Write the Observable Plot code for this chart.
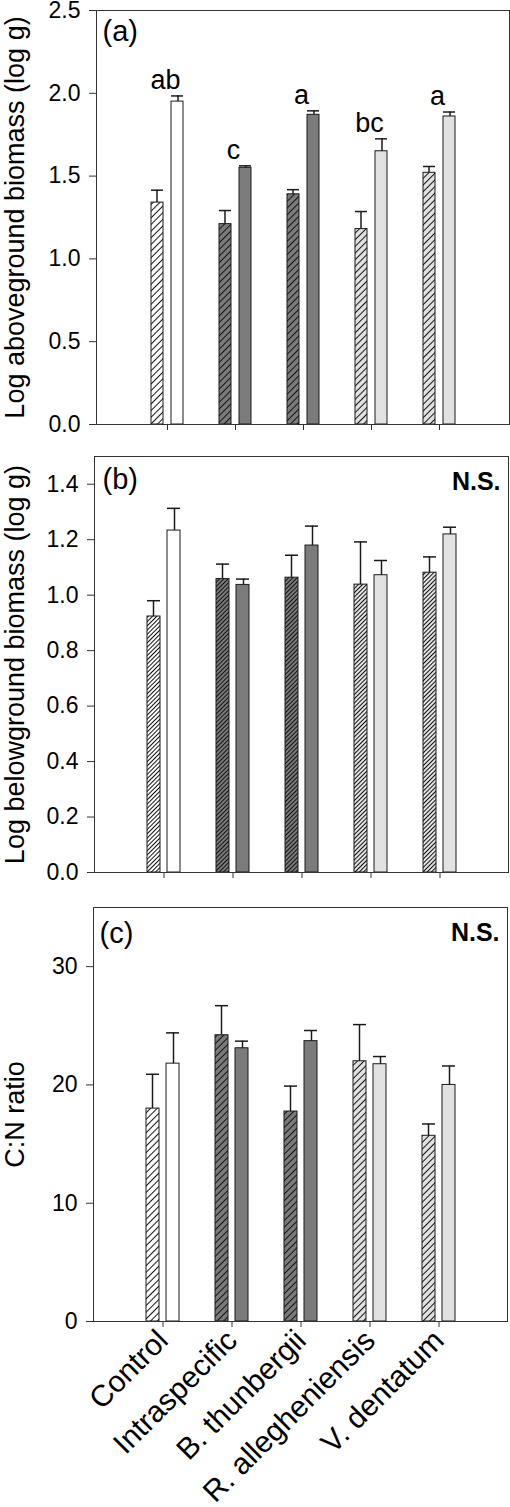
<!DOCTYPE html>
<html><head><meta charset="utf-8">
<script src="https://cdn.jsdelivr.net/npm/d3@7"></script>
<script src="https://cdn.jsdelivr.net/npm/@observablehq/plot@0.6"></script>
<style>
body{margin:0;background:#fff;}
#chart{width:510px;}
#chart svg{display:block;}
</style></head><body>
<svg id="defs" width="0" height="0" style="position:absolute;left:0;top:0"><defs></defs></svg>
<div id="chart"></div>
<script>
// ---- data ----
const categories = ["Control", "Intraspecific", "B. thunbergii", "R. allegheniensis", "V. dentatum"];
const shade = ["white", "dark", "dark", "light", "light"];

// (a) Log aboveground biomass
const aboveHatched   = [1.34, 1.21, 1.39, 1.18, 1.52];
const aboveHatchedSE = [0.075, 0.082, 0.028, 0.106, 0.038];
const aboveSolid     = [1.95, 1.55, 1.87, 1.65, 1.86];
const aboveSolidSE   = [0.034, 0.012, 0.024, 0.075, 0.027];
const aboveLetters   = ["ab", "c", "a", "bc", "a"];

// (b) Log belowground biomass
const belowHatched   = [0.923, 1.058, 1.063, 1.038, 1.081];
const belowHatchedSE = [0.057, 0.054, 0.081, 0.154, 0.057];
const belowSolid     = [1.233, 1.037, 1.179, 1.072, 1.219];
const belowSolidSE   = [0.080, 0.021, 0.070, 0.053, 0.026];

// (c) C:N ratio
const cnHatched   = [18.0, 24.2, 17.75, 22.0, 15.7];
const cnHatchedSE = [2.9, 2.5, 2.15, 3.1, 1.0];
const cnSolid     = [21.8, 23.1, 23.7, 21.75, 20.0];
const cnSolidSE   = [2.6, 0.6, 0.9, 0.65, 1.6];

const ticksA = [0, 0.5, 1.0, 1.5, 2.0, 2.5];
const ticksB = [0, 0.2, 0.4, 0.6, 0.8, 1.0, 1.2, 1.4];
const ticksC = [0, 10, 20, 30];

// ---- styles ----
const fills = {white: "#ffffff", dark: "#7b7b7b", light: "#e2e2e2"};
const font = "'Liberation Sans', Arial, Helvetica, sans-serif";

// hatch patterns
const defs = d3.select("#defs defs");
for (const [dens, w] of [["wide", 4.7], ["fine", 3.0]]) {
  for (const s of Object.keys(fills)) {
    const p = defs.append("pattern")
      .attr("id", `hatch-${dens}-${s}`)
      .attr("patternUnits", "userSpaceOnUse")
      .attr("width", w).attr("height", w)
      .attr("patternTransform", "rotate(45)");
    p.append("rect").attr("width", w).attr("height", w).attr("fill", fills[s]);
    p.append("line").attr("x1", w / 2).attr("x2", w / 2).attr("y1", -1).attr("y2", w + 1)
      .attr("stroke", "#111").attr("stroke-width", 1);
  }
}

function rows(hm, hse, sm, sse, letters) {
  return categories.flatMap((c, i) => [
    {category: c, kind: "hatched", shade: shade[i], mean: hm[i], se: hse[i]},
    {category: c, kind: "solid", shade: shade[i], mean: sm[i], se: sse[i], letter: letters ? letters[i] : null}
  ]);
}

function panel(o) {
  const data = rows(o.hm, o.hse, o.sm, o.sse, o.letters);
  const H = data.filter(d => d.kind === "hatched");
  const S = data.filter(d => d.kind === "solid");
  const ink = "#1a1a1a";
  const marks = [
    Plot.barY(H, {x: "category", y1: 0, y2: "mean", fill: d => `url(#hatch-${o.dens}-${d.shade})`,
      stroke: ink, strokeWidth: 1, insetLeft: 18, insetRight: 38}),
    Plot.barY(S, {x: "category", y1: 0, y2: "mean", fill: d => fills[d.shade],
      stroke: ink, strokeWidth: 1, insetLeft: 38, insetRight: 18}),
    Plot.ruleX(H, {x: "category", y1: "mean", y2: d => d.mean + d.se, dx: -10.5, stroke: ink, strokeWidth: 1.5}),
    Plot.ruleX(S, {x: "category", y1: "mean", y2: d => d.mean + d.se, dx: 10.5, stroke: ink, strokeWidth: 1.5}),
    Plot.tickY(H, {x: "category", y: d => d.mean + d.se, insetLeft: 18, insetRight: 38, stroke: ink, strokeWidth: 1.5}),
    Plot.tickY(S, {x: "category", y: d => d.mean + d.se, insetLeft: 38, insetRight: 18, stroke: ink, strokeWidth: 1.5}),
    Plot.frame({stroke: "#333", strokeWidth: 1}),
    Plot.axisY({ticks: o.ticks, tickFormat: o.fmt, tickSize: 7, tickPadding: 9, fontSize: 23, label: null, stroke: "#333"}),
    o.showX
      ? Plot.axisX({tickSize: 6, tickPadding: 8, tickRotate: -45, fontSize: 30, label: null, stroke: "#333"})
      : Plot.axisX({tickSize: 6, tickFormat: () => "", label: null, stroke: "#333"}),
    Plot.text([o.ylabel], {text: d => d, frameAnchor: "left", rotate: -90, lineAnchor: "top", textAnchor: "middle",
      dx: 4 - o.ml, fontSize: 27}),
    Plot.text([o.tag], {text: d => d, frameAnchor: "top-left", textAnchor: "start", lineAnchor: "top",
      dx: o.tagDx, dy: o.tagDy, fontSize: 29})
  ];
  if (o.ns) marks.push(Plot.text(["N.S."], {text: d => d, frameAnchor: "top-right", textAnchor: "end",
    lineAnchor: "top", dx: -8, dy: 16, fontSize: 25, fontWeight: "bold"}));
  if (o.letters) marks.push(Plot.text(S, {x: "category", y: d => d.mean + d.se, text: "letter",
    lineAnchor: "bottom", dy: -7, dx: -2, fontSize: 27}));
  return Plot.plot({
    width: 510, height: o.height,
    marginTop: o.mt, marginBottom: o.mb, marginLeft: o.ml, marginRight: o.mr,
    style: {fontFamily: font, background: "white", color: "black", overflow: "visible"},
    color: {type: "identity"},
    x: {type: "band", domain: categories, paddingInner: 0, paddingOuter: 0.5},
    y: {domain: o.domain},
    marks
  });
}

const chart = document.getElementById("chart");
chart.append(panel({
  hm: aboveHatched, hse: aboveHatchedSE, sm: aboveSolid, sse: aboveSolidSE, letters: aboveLetters,
  domain: [0, 2.5], ticks: ticksA, fmt: d3.format(".1f"), dens: "wide",
  ylabel: "Log aboveground biomass (log g)", tag: "(a)", tagDx: 6, tagDy: 10, ns: false, showX: false,
  height: 440, mt: 10, mb: 16, ml: 96, mr: 1
}));
chart.append(panel({
  hm: belowHatched, hse: belowHatchedSE, sm: belowSolid, sse: belowSolidSE,
  domain: [0, 1.5], ticks: ticksB, fmt: d3.format(".1f"), dens: "fine",
  ylabel: "Log belowground biomass (log g)", tag: "(b)", tagDx: 8, tagDy: 12, ns: true, showX: false,
  height: 450, mt: 16, mb: 18, ml: 94, mr: 2
}));
chart.append(panel({
  hm: cnHatched, hse: cnHatchedSE, sm: cnSolid, sse: cnSolidSE,
  domain: [0, 35], ticks: ticksC, fmt: d3.format("d"), dens: "wide",
  ylabel: "C:N ratio", tag: "(c)", tagDx: 6, tagDy: 15, ns: true, showX: true,
  height: 617, mt: 17, mb: 186, ml: 93, mr: 3
}));
</script>
</body></html>
